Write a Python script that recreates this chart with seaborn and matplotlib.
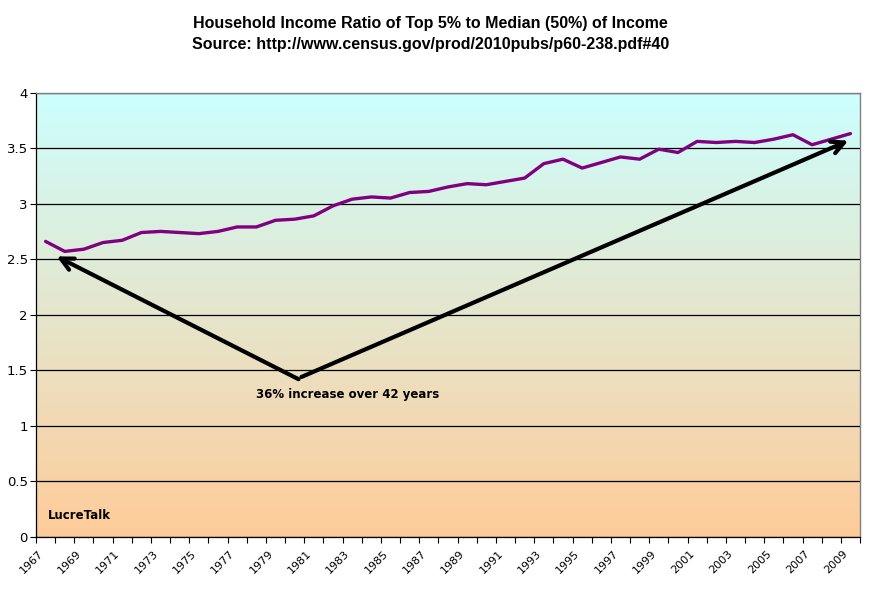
import numpy as np
import pandas as pd
import matplotlib
matplotlib.use('Agg')
import matplotlib.pyplot as plt
import matplotlib.transforms as mtransforms
from matplotlib.colors import LinearSegmentedColormap
import seaborn as sns

# ratio of top 5% household income to median
years = list(range(1967, 2010))
ratio = [2.66, 2.57, 2.59, 2.65, 2.67, 2.74, 2.75, 2.74, 2.73, 2.75,
         2.79, 2.79, 2.85, 2.86, 2.89, 2.98, 3.04, 3.06, 3.05, 3.10,
         3.11, 3.15, 3.18, 3.17, 3.20, 3.23, 3.36, 3.40, 3.32, 3.37,
         3.42, 3.40, 3.49, 3.46, 3.56, 3.55, 3.56, 3.55, 3.58, 3.62,
         3.53, 3.58, 3.63]
y_ticks = [0, 0.5, 1, 1.5, 2, 2.5, 3, 3.5, 4]
title = ("Household Income Ratio of Top 5% to Median (50%) of Income\n"
         "Source: http://www.census.gov/prod/2010pubs/p60-238.pdf#40")
note = "36% increase over 42 years"
brand = "LucreTalk"

df = pd.DataFrame({'year': years, 'ratio': ratio})
df['idx'] = np.arange(len(df))

sns.set_style('ticks')
plt.rcParams['font.family'] = ['DejaVu Sans']
plt.rcParams['text.color'] = 'black'
plt.rcParams['xtick.color'] = 'black'
plt.rcParams['ytick.color'] = 'black'

fig = plt.figure(figsize=(8.72, 5.93), dpi=100)
ax = fig.add_axes([36 / 872, 1 - 537 / 593, 824 / 872, 444.5 / 593])

# background gradient cyan -> peach
cmap = LinearSegmentedColormap.from_list('bg', ['#FFCC99', '#CCFFFF'])
grad = np.linspace(0, 1, 256).reshape(-1, 1)
ax.imshow(grad, cmap=cmap, aspect='auto', origin='lower',
          extent=[0, 1, 0, 1], transform=ax.transAxes, zorder=0)

sns.lineplot(data=df, x='idx', y='ratio', color='#800080', lw=2.4, ax=ax, zorder=3)

ax.set_xlim(-0.5, len(df) - 0.5)
ax.set_ylim(0, 4)
ax.set_yticks(y_ticks)
ax.set_yticklabels([f'{t:g}' for t in y_ticks], fontsize=9.5)
ax.yaxis.grid(True, color='black', lw=0.9)
ax.set_axisbelow('line')

# year labels sit a little left of the category centre, like Excel does
ax.set_xticks(df['idx'][::2] - 0.4)
ax.set_xticklabels(df['year'][::2], rotation=45, ha='right',
                   rotation_mode='anchor', fontsize=8)
ax.set_xticks(np.arange(-0.5, len(df), 1), minor=True)
ax.tick_params(axis='x', which='major', length=0, pad=8)
ax.tick_params(axis='x', which='minor', length=4, width=0.8, color='black')
ax.tick_params(axis='y', length=4, width=0.8, color='black', pad=2)
ax.set_xlabel('')
ax.set_ylabel('')

for side in ['top', 'right']:
    ax.spines[side].set_color('#808080')
    ax.spines[side].set_linewidth(1)
for side in ['left', 'bottom']:
    ax.spines[side].set_color('black')
    ax.spines[side].set_linewidth(0.9)

fig.text(0.494, 0.973, title, ha='center', va='top', fontsize=11.5,
         fontweight='bold', family=['Liberation Sans'], linespacing=1.5)

# arrows from the V to the first and last years
base = (13.2, 1.42)
arrow_kw = dict(arrowstyle='->,head_length=0.9,head_width=0.45', lw=3,
                color='black', shrinkA=0, shrinkB=0)
tip1 = mtransforms.offset_copy(ax.transData, fig, x=11, y=-15, units='dots')
tip2 = mtransforms.offset_copy(ax.transData, fig, x=-2, y=-7, units='dots')
ax.annotate('', xy=(0, ratio[0]), xycoords=tip1, xytext=base,
            textcoords='data', arrowprops=arrow_kw, zorder=4)
ax.annotate('', xy=(len(df) - 1, ratio[-1]), xycoords=tip2,
            xytext=(base[0] + 0.15, base[1] + 0.02), textcoords='data',
            arrowprops=arrow_kw, zorder=4)

ax.text(15.74, 1.28, note, ha='center', va='center', fontsize=8.5,
        fontweight='bold')
ax.text(0.12, 0.19, brand, ha='left', va='center', fontsize=8.5,
        fontweight='bold')

fig.savefig('out.png', dpi=100)
